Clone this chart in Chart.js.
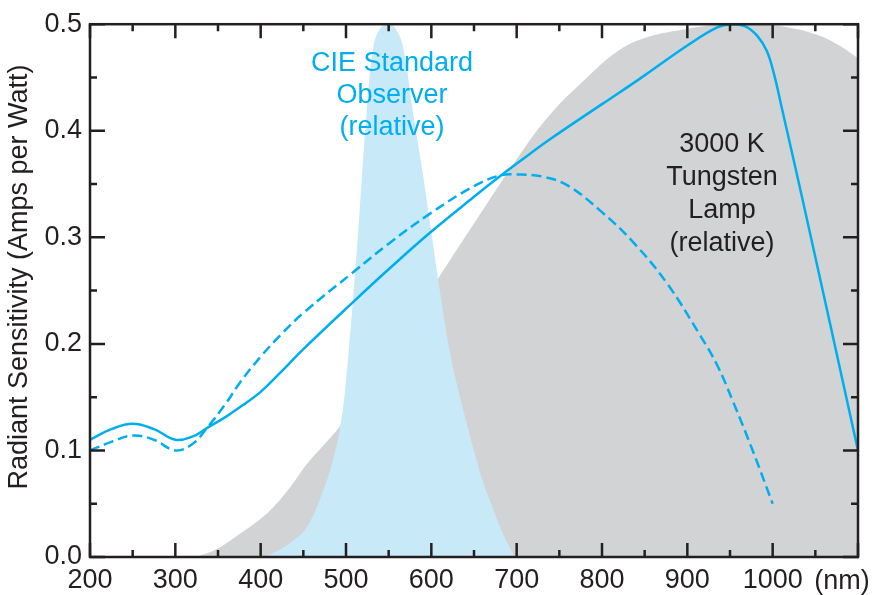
<!DOCTYPE html>
<html>
<head>
<meta charset="utf-8">
<script src="https://cdn.jsdelivr.net/npm/chart.js@4/dist/chart.umd.min.js"></script>
<style>
  body { margin: 0; background: #fff; }
  #wrap { width: 875px; height: 595px; position: relative; }
</style>
</head>
<body>
<div id="wrap"><canvas id="chart"></canvas></div>
<script>
// wavelengths (nm) and values
var solidNm  = [200, 225, 250, 275, 300, 320, 337, 360, 380, 400, 423, 450, 508, 550, 598, 650, 680, 715, 739, 800, 817, 850, 900, 935, 952, 968, 982, 993, 1001, 1010, 1036, 1100];
var solidVal = [0.11, 0.12, 0.125, 0.12, 0.11, 0.113, 0.121, 0.132, 0.143, 0.155, 0.173, 0.195, 0.239, 0.27, 0.304, 0.338, 0.357, 0.378, 0.392, 0.425, 0.434, 0.452, 0.48, 0.497, 0.5, 0.498, 0.489, 0.475, 0.455, 0.424, 0.332, 0.10];

var dashNm  = [200, 225, 250, 275, 300, 320, 337, 360, 376, 400, 423, 450, 508, 550, 598, 650, 680, 700, 730, 759, 798, 837, 876, 915, 935, 954, 977, 1000];
var dashVal = [0.10, 0.108, 0.114, 0.11, 0.10, 0.106, 0.121, 0.145, 0.164, 0.188, 0.208, 0.229, 0.267, 0.294, 0.322, 0.348, 0.358, 0.359, 0.357, 0.349, 0.325, 0.295, 0.257, 0.208, 0.18, 0.145, 0.099, 0.05];

var cieNm  = [403, 415, 434, 454, 473, 485, 493, 500, 510, 516, 524, 532, 540, 550, 558, 567, 579, 590, 600, 610, 620, 630, 640, 650, 660, 672, 685, 698];
var cieVal = [0, 0.004, 0.013, 0.028, 0.062, 0.092, 0.121, 0.165, 0.26, 0.325, 0.415, 0.478, 0.496, 0.5, 0.496, 0.478, 0.415, 0.36, 0.305, 0.25, 0.2, 0.162, 0.13, 0.1, 0.072, 0.046, 0.02, 0];

var lampNm  = [325, 350, 376, 400, 415, 435, 454, 475, 493, 550, 610, 650, 704, 739, 780, 817, 850, 895, 930, 973, 1010, 1052, 1080, 1100];
var lampVal = [0, 0.008, 0.022, 0.036, 0.047, 0.066, 0.087, 0.106, 0.123, 0.19, 0.264, 0.313, 0.378, 0.415, 0.448, 0.474, 0.487, 0.495, 0.499, 0.5, 0.498, 0.49, 0.479, 0.468];

var xTickValues = [200, 300, 400, 500, 600, 700, 800, 900, 1000];
var xMajor = [200, 300, 400, 500, 600, 700, 800, 900, 1000, 1100];
var xMinor = [250, 350, 450, 550, 650, 750, 850, 950, 1050];
var yMajor = [0, 0.1, 0.2, 0.3, 0.4, 0.5];
var yMinor = [0.05, 0.15, 0.25, 0.35, 0.45];

var cieLabel = ['CIE Standard', 'Observer', '(relative)'];
var lampLabel = ['3000 K', 'Tungsten', 'Lamp', '(relative)'];
var yTitle = 'Radiant Sensitivity (Amps per Watt)';

var FAMILY = '"Liberation Sans", Arial, sans-serif';
var FONT = '27px ' + FAMILY;
var CYAN = '#00aeef';
var INK = '#231f20';

function pts(xs, ys) {
  return xs.map(function(x, i) { return {x: x, y: ys[i]}; });
}

var frame = {
  id: 'frame',
  afterDatasetsDraw: function(chart) {
    var ctx = chart.ctx, a = chart.chartArea;
    var xs = chart.scales.x, ys = chart.scales.y;
    ctx.save();
    ctx.strokeStyle = INK;
    ctx.lineWidth = 2.5;
    ctx.beginPath();
    function xt(list, len) {
      list.forEach(function(v) {
        var p = xs.getPixelForValue(v);
        ctx.moveTo(p, a.bottom); ctx.lineTo(p, a.bottom - len);
        ctx.moveTo(p, a.top); ctx.lineTo(p, a.top + len);
      });
    }
    function yt(list, len) {
      list.forEach(function(v) {
        var p = ys.getPixelForValue(v);
        ctx.moveTo(a.left, p); ctx.lineTo(a.left + len, p);
        ctx.moveTo(a.right, p); ctx.lineTo(a.right - len, p);
      });
    }
    xt(xMajor, 14); xt(xMinor, 7);
    yt(yMajor, 15); yt(yMinor, 7);
    ctx.stroke();
    ctx.strokeRect(a.left, a.top, a.right - a.left, a.bottom - a.top);

    ctx.font = FONT;
    ctx.textAlign = 'center';
    ctx.textBaseline = 'alphabetic';
    ctx.fillStyle = CYAN;
    cieLabel.forEach(function(t, i) { ctx.fillText(t, 392, 71 + i * 32); });
    ctx.fillStyle = INK;
    lampLabel.forEach(function(t, i) { ctx.fillText(t, 722, 152 + i * 33); });
    ctx.fillText('(nm)', 842, 589);

    ctx.translate(27, 277);
    ctx.rotate(-Math.PI / 2);
    ctx.fillText(yTitle, 0, 0);
    ctx.restore();
  }
};

new Chart(document.getElementById('chart'), {
  type: 'line',
  data: {
    datasets: [
      {
        data: pts(solidNm, solidVal),
        borderColor: CYAN, borderWidth: 2.5,
        tension: 0.4,
        fill: false, order: 1
      },
      {
        data: pts(dashNm, dashVal),
        borderColor: CYAN, borderWidth: 2.5, borderDash: [10, 5],
        tension: 0.4,
        fill: false, order: 2
      },
      {
        data: pts(cieNm, cieVal),
        borderWidth: 0, backgroundColor: '#c8e9f8',
        tension: 0.4,
        fill: 'origin', order: 3
      },
      {
        data: pts(lampNm, lampVal),
        borderWidth: 0, backgroundColor: '#d1d3d4',
        tension: 0.4,
        fill: 'origin', order: 4
      }
    ]
  },
  options: {
    responsive: true,
    maintainAspectRatio: false,
    animation: false,
    layout: { padding: { top: 19, right: 17, left: 0, bottom: 0 } },
    elements: { point: { radius: 0 } },
    plugins: { legend: { display: false }, tooltip: { enabled: false } },
    scales: {
      x: {
        type: 'linear', min: 200, max: 1100,
        afterBuildTicks: function(scale) {
          scale.ticks = xTickValues.map(function(v) { return {value: v}; });
        },
        afterFit: function(scale) { scale.height = 38; },
        grid: { display: false, drawTicks: false },
        border: { display: false },
        ticks: {
          color: INK, padding: 7, maxRotation: 0,
          font: { family: FAMILY, size: 27 },
          callback: function(v) { return String(v); }
        }
      },
      y: {
        type: 'linear', min: 0, max: 0.5,
        afterBuildTicks: function(scale) {
          scale.ticks = yMajor.map(function(v) { return {value: v}; });
        },
        afterFit: function(scale) { scale.width = 90; },
        grid: { display: false, drawTicks: false },
        border: { display: false },
        ticks: {
          color: INK, padding: 8,
          font: { family: FAMILY, size: 27 },
          callback: function(v) { return v.toFixed(1); }
        }
      }
    }
  },
  plugins: [frame]
});
</script>
</body>
</html>
